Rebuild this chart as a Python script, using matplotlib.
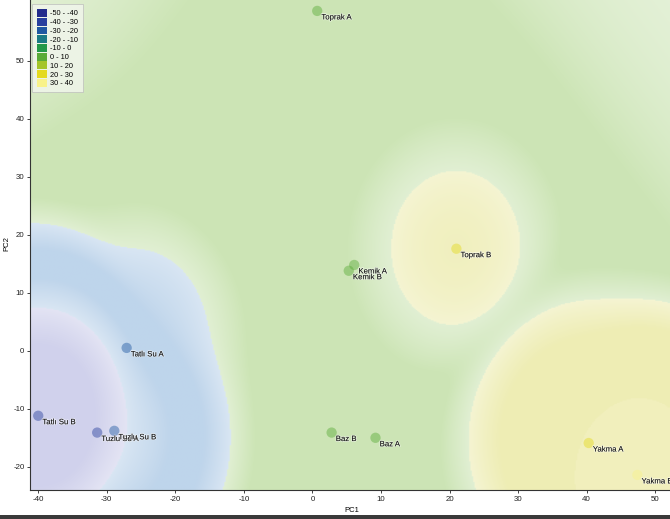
import numpy as np
import matplotlib.pyplot as plt
from matplotlib.patches import Patch, Rectangle
from matplotlib.colors import to_rgb
import matplotlib.patheffects as pe

plt.rcParams['font.family'] = ['Liberation Sans', 'DejaVu Sans']
plt.rcParams['axes.unicode_minus'] = False

# sample scores on the first two components
names = ['Toprak A', 'Toprak B', 'Kemik A', 'Kemik B', 'Tatlı Su A', 'Tatlı Su B',
         'Tuzlu Su A', 'Tuzlu Su B', 'Baz A', 'Baz B', 'Yakma A', 'Yakma B']
pc1 = [0.7, 21.0, 6.1, 5.3, -27.1, -40.0, -31.4, -28.9, 9.2, 2.8, 40.3, 47.4]
pc2 = [58.6, 17.6, 14.8, 13.8, 0.5, -11.2, -14.1, -13.8, -15.0, -14.1, -15.9, -21.4]
value = [6, 22, 3, 2, -24, -36, -30.5, -23, 8, 4, 28, 33]

bin_edges = [-50, -40, -30, -20, -10, 0, 10, 20, 30, 40]
bin_labels = ['-50 - -40', '-40 - -30', '-30 - -20', '-20 - -10', '-10 - 0',
              '0 - 10', '10 - 20', '20 - 30', '30 - 40']
bin_colors = ['#232c8c', '#28409e', '#1f58a2', '#1b7a86', '#23994a',
              '#5aab38', '#a4c52a', '#e4da1e', '#f8f28a']
surface_colors = ['#cdcbe9', '#d3d4ed', '#c2d7ec', '#cfe6b9', '#cfe6b9',
                  '#cfe6b9', '#cfe6b9', '#efeeb8', '#f2f0c0']

xlim = (-41.2, 52.6)
ylim = (-24.0, 61.0)

# interpolated surface behind the points
px, py = np.array(pc1), np.array(pc2)
amp = np.array(value, dtype=float)
gx, gy = np.meshgrid(np.linspace(*xlim, 470), np.linspace(*ylim, 430))
d2 = ((gx[..., None] - px) * 6.86) ** 2 + ((gy[..., None] - py) * 5.8 / 1.2) ** 2
k = np.exp(-d2 / (2 * 149.0 ** 2))
bump = amp * k
score = 0.8 * np.abs(bump)
w = np.exp(score - score.max(-1, keepdims=True))
w /= w.sum(-1, keepdims=True)
field = (w * bump).sum(-1)
dens = np.exp(-d2 / (2 * 130.0 ** 2)).sum(-1)

idx = np.clip(np.digitize(field, bin_edges[1:-1]), 0, 8)
surf = np.array([to_rgb(c) for c in surface_colors])[idx]
inner = np.array([-30, -20, 20])
gap = np.abs(field[..., None] - inner).min(-1)
t = (0.5 + 0.55 * np.clip(dens, 0, 1)) * np.clip(0.6 + gap / 8, 0, 1)
t = np.clip(t, 0, 1.2)[..., None]
rgb = np.clip(1 - t * (1 - surf), 0, 1)

fig = plt.figure(figsize=(6.7, 5.19), dpi=100)
ax = fig.add_axes([30 / 670, 29 / 519, 643 / 670, 493 / 519])
ax.imshow(rgb, extent=[*xlim, *ylim], origin='lower', aspect='auto',
          interpolation='bilinear', zorder=0)

bins = np.clip(np.digitize(amp, bin_edges[1:-1]), 0, 8)
ax.scatter(pc1, pc2, s=55, c=[bin_colors[b] for b in bins], alpha=0.45,
           edgecolors='none', zorder=3)
for n, x, y in zip(names, pc1, pc2):
    ax.annotate(n, (x, y), xytext=(3, -2.5), textcoords='offset points',
                ha='left', va='top', fontsize=5.6, color='#1a1a1a', zorder=4,
                path_effects=[pe.withStroke(linewidth=1.2, foreground=(1, 1, 1, 0.45))])

ax.set_xlim(*xlim)
ax.set_ylim(*ylim)
ax.set_xticks(range(-40, 51, 10))
ax.set_yticks(range(-20, 51, 10))
ax.tick_params(labelsize=5.7, length=2, width=0.6, pad=2, colors='#222222')
for s in ['top', 'right']:
    ax.spines[s].set_visible(False)
for s in ['left', 'bottom']:
    ax.spines[s].set_linewidth(0.8)
    ax.spines[s].set_color('#333333')
ax.set_xlabel('PC1', fontsize=5.5, labelpad=3)
ax.set_ylabel('PC2', fontsize=5.5, labelpad=2)

handles = [Patch(facecolor=c, edgecolor='none') for c in bin_colors]
leg = ax.legend(handles, bin_labels, loc='upper left', bbox_to_anchor=(0.003, 0.986),
                borderaxespad=0, fontsize=5.3, frameon=True,
                handlelength=1.3, handleheight=1.25, labelspacing=0.05,
                borderpad=0.7, handletextpad=0.5)
leg.get_frame().set_facecolor('#f2f6ee')
leg.get_frame().set_edgecolor('#bbbbbb')
leg.get_frame().set_linewidth(0.6)
leg.get_frame().set_boxstyle('square', pad=0)

fig.patches.append(Rectangle((0, 0), 1, 4 / 519, transform=fig.transFigure,
                             facecolor='#3a3a3a', edgecolor='none'))

fig.savefig('out.png', dpi=100)
